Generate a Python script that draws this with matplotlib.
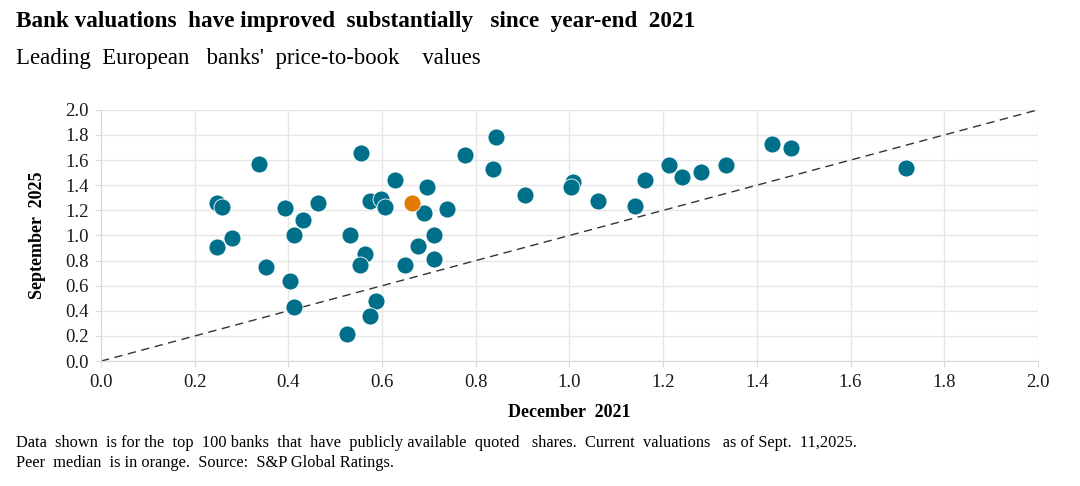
import matplotlib.pyplot as plt
import numpy as np

plt.rcParams['font.family'] = ['Liberation Serif', 'DejaVu Serif']

# December 2021 vs September 2025 price-to-book
dec_2021 = [0.248, 0.258, 0.248, 0.279, 0.338, 0.352, 0.392, 0.431, 0.411, 0.403,
            0.411, 0.463, 0.555, 0.532, 0.563, 0.552, 0.574, 0.598, 0.607, 0.627,
            0.696, 0.690, 0.677, 0.650, 0.587, 0.575, 0.525, 0.711, 0.711, 0.738,
            0.777, 0.843, 0.836, 0.905, 1.007, 1.003, 1.061, 1.140, 1.162, 1.213,
            1.240, 1.281, 1.334, 1.433, 1.474, 1.718]
sep_2025 = [1.258, 1.229, 0.907, 0.981, 1.566, 0.750, 1.221, 1.125, 1.003, 0.636,
            0.431, 1.258, 1.660, 1.005, 0.851, 0.766, 1.271, 1.287, 1.229, 1.441,
            1.383, 1.176, 0.918, 0.766, 0.479, 0.362, 0.215, 1.000, 0.816, 1.213,
            1.641, 1.787, 1.529, 1.322, 1.428, 1.388, 1.271, 1.231, 1.441, 1.559,
            1.465, 1.505, 1.561, 1.726, 1.697, 1.535]
median_dec_2021 = [0.663]
median_sep_2025 = [1.258]
diag = [0.0, 2.0]
ticks = np.round(np.arange(0, 2.01, 0.2), 1)

BLUE = "#00708A"
ORANGE = "#E07B00"
GRID = "#E6E6E6"

fig = plt.figure(figsize=(10.8, 4.86), dpi=100)
ax = fig.add_axes([0.0935, 0.257, 0.8675, 0.517])

ax.plot(diag, diag, linestyle=(0, (6, 4)), color="#333333", lw=1.0, zorder=2)
ax.scatter(dec_2021, sep_2025, s=150, color=BLUE, edgecolors="white",
           linewidths=0.6, zorder=3)
ax.scatter(median_dec_2021, median_sep_2025, s=150, color=ORANGE,
           edgecolors="white", linewidths=0.6, zorder=4)

ax.set_xlim(0, 2.0)
ax.set_ylim(0, 2.0)
ax.set_xticks(ticks)
ax.set_yticks(ticks)
ax.set_xticklabels([f"{t:.1f}" for t in ticks])
ax.set_yticklabels([f"{t:.1f}" for t in ticks])
ax.grid(True, color=GRID, lw=1.0, zorder=0)
ax.set_axisbelow(True)
for side in ["top", "right"]:
    ax.spines[side].set_visible(False)
for side in ["left", "bottom"]:
    ax.spines[side].set_color("#D9D9D9")
ax.tick_params(axis="both", colors="#D9D9D9", length=4, labelsize=13.5,
               labelcolor="#1a1a1a", pad=5)

ax.set_xlabel("December  2021", fontsize=13, fontweight="bold", labelpad=10)
ax.set_ylabel("September  2025", fontsize=13, fontweight="bold", labelpad=14)

fig.text(0.015, 0.955, "Bank valuations  have improved  substantially   since  year-end  2021",
         fontsize=16.7, fontweight="bold", va="center")
fig.text(0.015, 0.880, "Leading  European   banks'  price-to-book    values",
         fontsize=16.4, va="center")
fig.text(0.015, 0.088, "Data  shown  is for the  top  100 banks  that  have  publicly available  quoted   shares.  Current  valuations   as of Sept.  11,2025.",
         fontsize=11.8, va="center")
fig.text(0.015, 0.047, "Peer  median  is in orange.  Source:  S&P Global Ratings.",
         fontsize=11.8, va="center")

fig.savefig("out.png", dpi=100)
